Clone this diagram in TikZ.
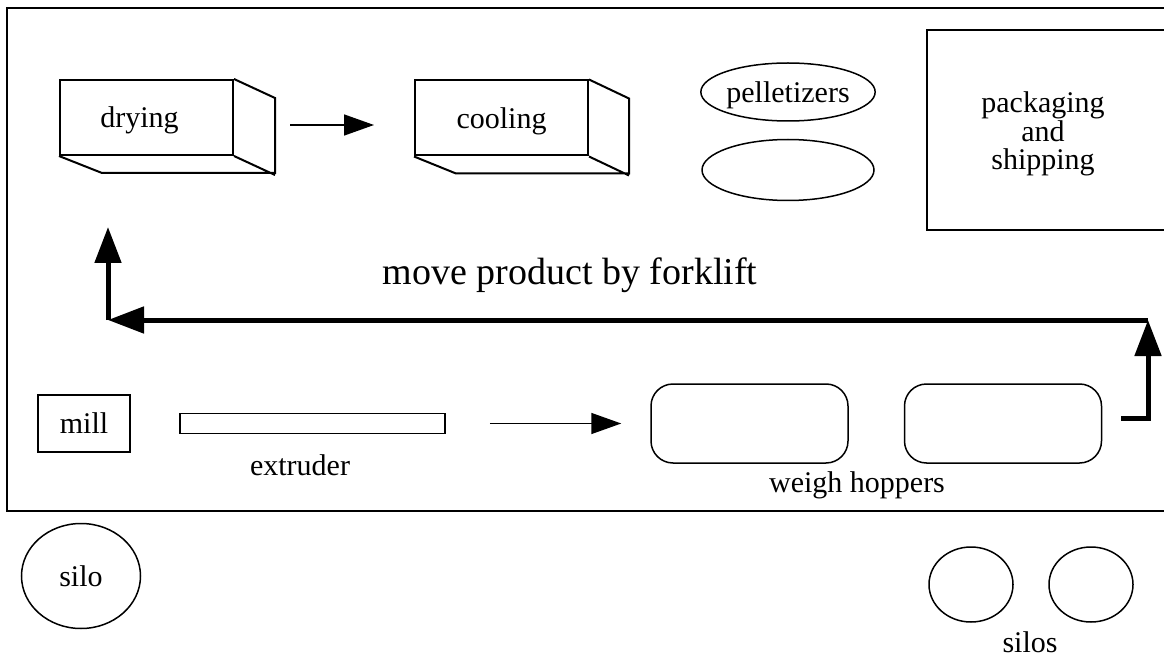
\documentclass[tikz,border=0pt]{standalone}
\usepackage{fontspec}
\setmainfont{Liberation Serif}
\usetikzlibrary{arrows.meta,shapes.geometric}
\begin{document}
\begin{tikzpicture}[x=1pt,y=-1pt,line join=miter,
	txt/.style={font=\fontsize{30}{31}\selectfont,inner sep=0pt},
	box/.style={draw,line width=2pt,minimum width=173pt,minimum height=75pt,txt,text depth=0pt},
	oval/.style={draw,ellipse,line width=1.5pt,txt,text depth=0pt},
	hopper/.style={draw,rounded corners=22pt,line width=1.5pt,minimum width=197pt,minimum height=79pt},
	arr/.style={line width=1.5pt,-{Triangle[length=30pt,width=21pt]}},
	fork/.style={line width=5pt,-{Triangle[length=36pt,width=26pt]}}]
	\useasboundingbox (0,0) rectangle (1164,660);
	% hall
	\draw[line width=2pt] (1170,8) -| (7,511) -- (1170,511);
	% drying and cooling
	\node[box] (dry) at (146.5,117.5) {drying\hspace*{14pt}};
	\draw[line width=2pt] (dry.north east) -- ++(41,19) -- ++(0,75) -- ++(-173,0) -- (dry.south west) (dry.south east) -- ++(41,19);
	\node[box] (cool) at (501.5,118) {cooling};
	\draw[line width=2pt] (cool.north east) -- ++(40,19) -- ++(0,75) -- ++(-173,0) -- (cool.south west) (cool.south east) -- ++(40,19);
	\draw[arr] ([shift={(56,7.5)}]dry.east) -- ([shift={(-40,7)}]cool.west);
	\node[oval,minimum width=172pt,minimum height=58pt] (pel) at (788,92) {pelletizers};
	\node[oval,minimum width=172pt,minimum height=61pt] (pel2) at (788,170) {};
	% packaging
	\draw[line width=2pt] (1170,30) -| (927,230) -- (1170,230);
	\node[txt,font=\fontsize{30}{28.5}\selectfont,align=center] (pack) at (1043,134) {packaging\\and\\shipping};
	% forklift
	\node[inner sep=0pt,font=\fontsize{38}{40}\selectfont] (move) at (570,275) {move product by forklift};
	\coordinate (f1) at (1121,418);
	\coordinate (f2) at (1148,320);
	\coordinate (f3) at (108,320);
	\coordinate (f4) at (108,227);
	\draw[fork] (f1) -| (f2);
	\draw[fork] (f2) -- (f3);
	\draw[fork] (f3) -- (f4);
	% lower row
	\node[draw,line width=1.5pt,minimum width=92pt,minimum height=57pt,txt] (mill) at (84,423.5) {mill};
	\node[draw,line width=1.5pt,minimum width=265pt,minimum height=20pt,inner sep=0pt] (extr) at (312.5,423.5) {};
	\node[txt] (extrlbl) at (300,465) {extruder};
	\node[hopper] (hop1) at (749.5,423.5) {};
	\node[hopper] (hop2) at (1003,423.5) {};
	\draw[arr,shorten <=44pt,shorten >=29pt] (extr.east) -- (hop1.west);
	\node[txt] (hoplbl) at (857,485) {weigh hoppers};
	% silos
	\node[oval,minimum width=119pt,minimum height=105pt] (silo) at (81,576) {silo};
	\node[oval,minimum width=84pt,minimum height=75pt] (silo2) at (971,584.5) {};
	\node[oval,minimum width=84pt,minimum height=75pt] (silo3) at (1091,584.5) {};
	\node[txt] (silolbl) at (1030,642) {silos};
\end{tikzpicture}
\end{document}
